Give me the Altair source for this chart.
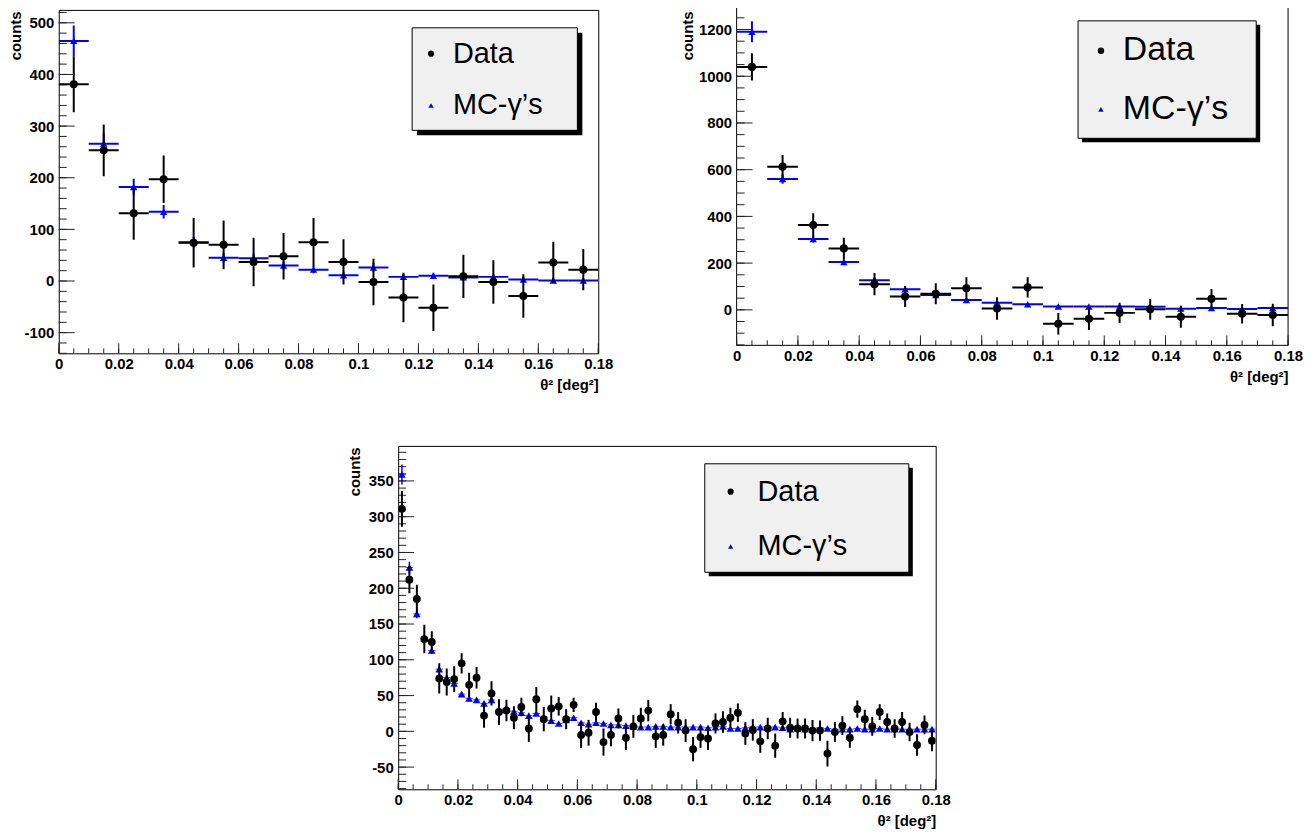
import altair as alt
import pandas as pd

FONT = "Liberation Sans"
BLUE = "#0000ff"

# ---------------- data ----------------
edges10 = [round(i * 0.01, 4) for i in range(19)]          # 18 bins, width 0.01
edges25 = [round(i * 0.0025, 5) for i in range(73)]        # 72 bins, width 0.0025

# Panel 1 (top left)
p1_data = [381, 253, 131, 197, 74, 70, 37, 48, 75, 37, -2, -32, -52, 9, -2, -29, 36, 22]
p1_data_err = [54, 50, 51, 46, 48, 47, 47, 45, 47, 44, 45, 48, 45, 42, 42, 42, 40, 40]
p1_mc = [465, 266, 182, 134, 75, 45, 44, 30, 22, 11, 26, 8, 10, 7, 8, 3, 1, 1]
p1_mc_err = [30, 20, 16, 13, 10, 9, 9, 8, 7, 7, 9, 6, 6, 6, 6, 5, 5, 5]

# Panel 2 (top right)
p2_data = [1040, 613, 363, 263, 110, 57, 69, 92, 6, 96, -60, -38, -13, 2, -30, 47, -17, -22]
p2_data_err = [58, 50, 50, 46, 48, 45, 45, 47, 48, 43, 46, 48, 43, 44, 47, 42, 42, 48]
p2_mc = [1190, 560, 303, 205, 127, 88, 63, 42, 30, 24, 14, 14, 14, 13, 5, 8, 4, 8]
p2_mc_err = [45, 20, 15, 12, 10, 8, 7, 6, 5, 5, 4, 4, 4, 4, 3, 3, 3, 3]

# Panel 3 (bottom)
p3_data = [311, 212, 185, 129, 125, 74, 69, 73, 95, 65, 75, 22, 53, 27, 29, 19, 34, 4,
           45, 17, 32, 35, 17, 37, -5, -2, 27, -15, -5, 18, -9, 7, 18, 29, -7, -5,
           24, 12, 1, -25, -8, -10, 11, 13, 19, 26, -3, 2, -14, 4, -20, 14, 5, 4,
           4, 1, 1, -31, -1, 8, -9, 31, 17, 7, 27, 13, 4, 13, -1, -19, 9, -13]
p3_data_err = [25, 19, 20, 20, 15, 21, 19, 18, 14, 17, 15, 17, 17, 18, 15, 16, 13, 19,
               17, 17, 18, 13, 14, 10, 18, 18, 13, 19, 16, 14, 17, 16, 15, 15, 16, 15,
               14, 15, 16, 17, 15, 16, 14, 15, 14, 13, 16, 15, 16, 15, 17, 13, 14, 14,
               14, 15, 14, 18, 14, 13, 14, 12, 13, 13, 11, 12, 13, 14, 13, 15, 13, 15]
p3_mc = [359, 229, 164, 130, 113, 87, 75, 67, 52, 46, 44, 39, 44, 30, 32, 28, 26, 22,
         25, 20, 15, 11, 16, 19, 12, 10, 12, 11, 9, 9, 8, 7, 6, 6, 7, 7,
         6, 6, 6, 6, 6, 5, 6, 7, 4, 4, 5, 6, 6, 5, 6, 5, 3, 4,
         3, 3, 5, 4, 3, 3, 3, 4, 3, 3, 4, 3, 3, 3, 3, 3, 3, 3]
p3_mc_err = [14, 8, 6, 5, 5, 4, 4, 4, 3, 3, 3, 3, 3, 3, 3, 3, 3, 3,
             3, 3, 2, 2, 2, 2, 2, 2, 2, 2, 2, 2, 2, 2, 2, 2, 2, 2,
             2, 2, 2, 2, 2, 2, 2, 2, 2, 2, 2, 2, 2, 2, 2, 2, 2, 2,
             2, 2, 2, 2, 2, 2, 2, 2, 2, 2, 2, 2, 2, 2, 2, 2, 2, 2]

legend_labels = ["Data", "MC-\u03b3\u2019s"]

x_major = [0, 0.02, 0.04, 0.06, 0.08, 0.1, 0.12, 0.14, 0.16, 0.18]
x_minor = [round(i * 0.005, 4) for i in range(37)]

p1_ymajor = [-100, 0, 100, 200, 300, 400, 500]
p1_yminor = list(range(-140, 521, 20))
p2_ymajor = [0, 200, 400, 600, 800, 1000, 1200]
p2_yminor = list(range(-150, 1251, 50))
p3_ymajor = [-50, 0, 50, 100, 150, 200, 250, 300, 350]
p3_yminor = list(range(-80, 391, 10))


def binned(edges, vals, errs):
    lo = edges[:-1]
    hi = edges[1:]
    return pd.DataFrame({
        "lo": lo,
        "hi": hi,
        "x": [(a + b) / 2 for a, b in zip(lo, hi)],
        "y": vals,
        "ylo": [v - e for v, e in zip(vals, errs)],
        "yhi": [v + e for v, e in zip(vals, errs)],
    })


one = pd.DataFrame({"k": [0]})


def make_panel(data_df, mc_df, ydomain, ymajor, yminor, width, height, lg,
               title_x, title_y=1, fine=False, open_top=0):
    xs = alt.Scale(domain=[0, 0.18], nice=False, zero=False)
    ys = alt.Scale(domain=ydomain, nice=False, zero=False)
    xaxis = alt.Axis(values=x_major, title="\u03b8\u00b2 [deg\u00b2]",
                     labelExpr="'' + datum.value", ticks=False, domain=False,
                     grid=False, labelPadding=3, labelFlush=False, labelOverlap=False,
                     titleAnchor="end", titleAlign="right", titleBaseline="alphabetic",
                     titleX=width, titleY=36)
    yaxis = alt.Axis(values=ymajor, title="counts", labelExpr="'' + datum.value",
                     ticks=False, domain=False, grid=False, labelPadding=5,
                     labelOverlap=False, titleAngle=270, titleAlign="right",
                     titleBaseline="middle", titleX=title_x, titleY=title_y)

    def X(f):
        return alt.X(f, type="quantitative", scale=xs, axis=xaxis)

    def Y(f):
        return alt.Y(f, type="quantitative", scale=ys, axis=yaxis)

    layers = []
    if open_top:
        # frame whose top edge lies above the picture (cut off, as in the original)
        fr = alt.Chart(one).mark_rule(color="black", strokeWidth=1)
        layers += [
            fr.encode(x=alt.value(0), y=alt.value(-open_top), y2=alt.value(height)),
            fr.encode(x=alt.value(width), y=alt.value(-open_top), y2=alt.value(height)),
            fr.encode(x=alt.value(0), x2=alt.value(width), y=alt.value(height)),
        ]
    # inner ticks (ROOT style)
    ymin_df = pd.DataFrame({"v": yminor})
    ymaj_df = pd.DataFrame({"v": ymajor})
    xmin_df = pd.DataFrame({"v": x_minor})
    xmaj_df = pd.DataFrame({"v": x_major})
    layers.append(alt.Chart(ymin_df).mark_rule(color="#222", strokeWidth=1).encode(
        y=Y("v"), x=alt.value(0), x2=alt.value(8)))
    layers.append(alt.Chart(ymaj_df).mark_rule(color="#222", strokeWidth=1).encode(
        y=Y("v"), x=alt.value(0), x2=alt.value(16)))
    layers.append(alt.Chart(xmin_df).mark_rule(color="#222", strokeWidth=1).encode(
        x=X("v"), y=alt.value(height), y2=alt.value(height - 5)))
    layers.append(alt.Chart(xmaj_df).mark_rule(color="#222", strokeWidth=1).encode(
        x=X("v"), y=alt.value(height), y2=alt.value(height - 10)))

    mc = alt.Chart(mc_df)
    dt = alt.Chart(data_df)
    if not fine:
        layers += [
            mc.mark_rule(color=BLUE, strokeWidth=2, clip=True).encode(x=X("lo"), x2="hi", y=Y("y")),
            mc.mark_rule(color=BLUE, strokeWidth=2, clip=True).encode(x=X("x"), y=Y("ylo"), y2="yhi"),
            mc.mark_point(shape="triangle-up", filled=True, color=BLUE, size=55, opacity=1,
                          clip=True).encode(x=X("x"), y=Y("y")),
            dt.mark_rule(color="black", strokeWidth=2, clip=True).encode(x=X("lo"), x2="hi", y=Y("y")),
            dt.mark_rule(color="black", strokeWidth=2, clip=True).encode(x=X("x"), y=Y("ylo"), y2="yhi"),
            dt.mark_point(shape="circle", filled=True, color="black", size=66, opacity=1,
                          clip=True).encode(x=X("x"), y=Y("y")),
        ]
    else:
        layers += [
            mc.mark_rule(color=BLUE, strokeWidth=1, opacity=0.7, clip=True).encode(x=X("lo"), x2="hi", y=Y("y")),
            mc.mark_rule(color=BLUE, strokeWidth=1.5, clip=True).encode(x=X("x"), y=Y("ylo"), y2="yhi"),
            mc.mark_point(shape="triangle-up", filled=True, color=BLUE, size=60, opacity=1,
                          clip=True).encode(x=X("x"), y=Y("y")),
            dt.mark_rule(color="black", strokeWidth=2, clip=True).encode(x=X("x"), y=Y("ylo"), y2="yhi"),
            dt.mark_point(shape="circle", filled=True, color="black", size=62, opacity=1,
                          clip=True).encode(x=X("x"), y=Y("y")),
        ]

    # legend box (ROOT TLegend style)
    s = lg["shadow"]
    layers.append(alt.Chart(one).mark_rect(fill="black").encode(
        x=alt.value(lg["x0"] + s), x2=alt.value(lg["x1"] + s),
        y=alt.value(lg["y0"] + s), y2=alt.value(lg["y1"] + s)))
    layers.append(alt.Chart(one).mark_rect(fill="#f0f0f0", stroke="black", strokeWidth=1).encode(
        x=alt.value(lg["x0"]), x2=alt.value(lg["x1"]),
        y=alt.value(lg["y0"]), y2=alt.value(lg["y1"])))
    layers.append(alt.Chart(one).mark_point(shape="circle", filled=True, color="black",
                                            size=lg["cs"], opacity=1).encode(
        x=alt.value(lg["mx"]), y=alt.value(lg["my0"])))
    layers.append(alt.Chart(one).mark_point(shape="triangle-up", filled=True, color=BLUE,
                                            size=lg["ts"], opacity=1).encode(
        x=alt.value(lg["mx"]), y=alt.value(lg["my1"])))
    for lab, yb in zip(legend_labels, [lg["ty0"], lg["ty1"]]):
        layers.append(alt.Chart(one).mark_text(align="left", baseline="alphabetic", font=FONT,
                                               fontSize=lg["fs"], color="black").encode(
            x=alt.value(lg["tx"]), y=alt.value(yb), text=alt.value(lab)))

    ch = alt.layer(*layers).properties(width=width, height=height)
    if open_top:
        ch = ch.properties(view=alt.ViewBackground(stroke="transparent", fill="white"))
    return ch


lg1 = dict(x0=355, x1=521, y0=18, y1=121, shadow=5, mx=374, my0=44, my1=96,
           tx=396, ty0=53, ty1=105, fs=29, cs=38, ts=28)
lg2 = dict(x0=343, x1=522, y0=11, y1=129, shadow=4, mx=366, my0=41, my1=100,
           tx=388, ty0=50, ty1=110, fs=34, cs=42, ts=30)
lg3 = dict(x0=308, x1=513, y0=18, y1=127, shadow=4, mx=334, my0=46, my1=101,
           tx=361, ty0=55, ty1=110, fs=29, cs=38, ts=28)

p1 = make_panel(binned(edges10, p1_data, p1_data_err), binned(edges10, p1_mc, p1_mc_err),
                [-140, 525], p1_ymajor, p1_yminor, 542, 345, lg1, -43)
p2 = make_panel(binned(edges10, p2_data, p2_data_err), binned(edges10, p2_mc, p2_mc_err),
                [-152, 1284], p2_ymajor, p2_yminor, 554, 337, lg2, -49, title_y=1,
                open_top=7)
p3 = make_panel(binned(edges25, p3_data, p3_data_err), binned(edges25, p3_mc, p3_mc_err),
                [-81, 399], p3_ymajor, p3_yminor, 540, 345, lg3, -44, fine=True)

SPACER_W = 288
spacer = alt.Chart(one).mark_point(opacity=0, size=1).encode(
    x=alt.value(SPACER_W / 2), y=alt.value(5)
).properties(width=SPACER_W, height=10,
             view=alt.ViewBackground(stroke="transparent", fill="transparent"))

top = alt.hconcat(p1, p2, spacing=66)
bottom = alt.hconcat(spacer, p3, spacing=0)
chart = alt.vconcat(top, bottom, spacing=52).properties(
    background="white", padding={"left": 0, "top": -8, "right": 0, "bottom": 0})
chart = chart.configure_view(stroke="black", strokeWidth=1, fill="white").configure_axis(
    labelFont=FONT, labelFontWeight="bold", labelFontSize=15, labelColor="black",
    titleFont=FONT, titleFontWeight="bold", titleFontSize=15, titleColor="black",
)

chart.save("out.html", embed_options={"renderer": "svg", "actions": False})
